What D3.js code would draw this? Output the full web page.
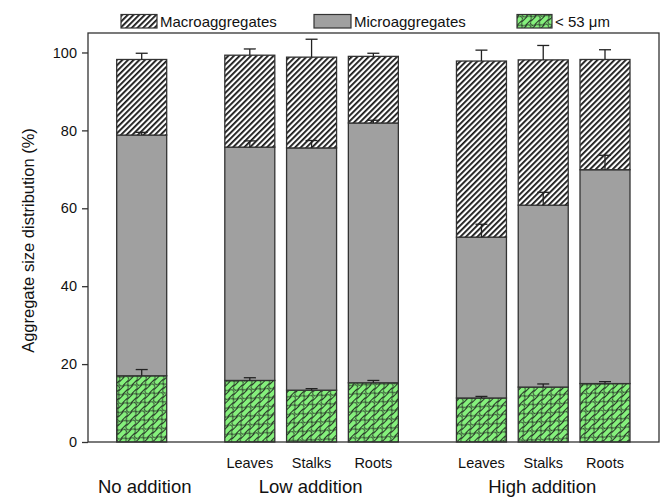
<!DOCTYPE html>
<html><head><meta charset="utf-8">
<script src="https://cdn.jsdelivr.net/npm/d3@7"></script>
<style>body{margin:0;background:#fff}svg{display:block;font-family:"Liberation Sans",Arial,sans-serif}</style>
</head><body><svg id="c" width="662" height="500"></svg>
<script>
const groups = ["No addition", "Low addition", "High addition"];
const treatments = ["", "Leaves", "Stalks", "Roots", "Leaves", "Stalks", "Roots"];
const groupIndex = [0, 1, 1, 1, 2, 2, 2];
const series = ["< 53 μm", "Microaggregates", "Macroaggregates"];
// cumulative tops of each stacked segment
const fineTop  = [17.0, 15.8, 13.3, 15.2, 11.3, 14.1, 15.0];
const microTop = [78.8, 75.7, 75.5, 81.9, 52.6, 60.8, 69.9];
const macroTop = [98.2, 99.3, 98.8, 99.0, 97.8, 98.1, 98.2];
// error bar upper ends
const fineErr  = [18.6, 16.5, 13.7, 15.8, 11.7, 14.9, 15.5];
const microErr = [79.5, 77.3, 77.4, 82.6, 55.9, 64.1, 73.6];
const macroErr = [99.8, 100.9, 103.4, 99.8, 100.6, 101.8, 100.7];
const yTicks = [0, 20, 40, 60, 80, 100];

const svg = d3.select("#c");
const L = 88, R = 659, T = 33, B = 442;
const defs = svg.append("defs");
const hatch = defs.append("pattern").attr("id", "hatch").attr("patternUnits", "userSpaceOnUse")
  .attr("width", 4).attr("height", 4).attr("patternTransform", "rotate(45)");
hatch.append("rect").attr("width", 4).attr("height", 4).attr("fill", "#fff");
hatch.append("line").attr("x1", 0.9).attr("y1", 0).attr("x2", 0.9).attr("y2", 4)
  .attr("stroke", "#151515").attr("stroke-width", 1.8);
const brick = defs.append("pattern").attr("id", "brick").attr("patternUnits", "userSpaceOnUse")
  .attr("width", 13).attr("height", 12).attr("patternTransform", "rotate(-45)");
brick.append("rect").attr("width", 13).attr("height", 12).attr("fill", "#85f07c");
[[0.5, 0.5], [-6, 6.5], [7, 6.5]].forEach(([bx, by]) => {
  brick.append("rect").attr("x", bx).attr("y", by).attr("width", 12).attr("height", 5).attr("rx", 2.5)
    .attr("fill", "#85f07c").attr("stroke", "#2a3a2a").attr("stroke-width", 1);
});

const pos = treatments.map((t, i) => i + 0.75 * groupIndex[i]);
const x = d3.scaleLinear().domain([0, 7.5]).range([141.7, 605]);
const y = d3.scaleLinear().domain([0, 105]).range([B, T]);
const bw = 50;

const segs = [
  {bot: treatments.map(() => 0), top: fineTop, err: fineErr, fill: "url(#brick)"},
  {bot: fineTop, top: microTop, err: microErr, fill: "#a0a0a0"},
  {bot: microTop, top: macroTop, err: macroErr, fill: "url(#hatch)"}
];
const g = svg.append("g");
segs.forEach(s => {
  g.selectAll(null).data(treatments).enter().append("rect")
    .attr("x", (d, i) => x(pos[i]) - bw / 2).attr("width", bw)
    .attr("y", (d, i) => y(s.top[i])).attr("height", (d, i) => y(s.bot[i]) - y(s.top[i]))
    .attr("fill", s.fill).attr("stroke", "#333").attr("stroke-width", 1.3);
});
segs.forEach(s => {
  const e = g.selectAll(null).data(treatments).enter().append("g");
  e.append("line").attr("x1", (d, i) => x(pos[i])).attr("x2", (d, i) => x(pos[i]))
    .attr("y1", (d, i) => y(s.top[i])).attr("y2", (d, i) => y(s.err[i])).attr("stroke", "#222").attr("stroke-width", 1.3);
  e.append("line").attr("x1", (d, i) => x(pos[i]) - 6).attr("x2", (d, i) => x(pos[i]) + 6)
    .attr("y1", (d, i) => y(s.err[i])).attr("y2", (d, i) => y(s.err[i])).attr("stroke", "#222").attr("stroke-width", 1.3);
});

// frame
svg.append("rect").attr("x", L).attr("y", T).attr("width", R - L).attr("height", B - T)
  .attr("fill", "none").attr("stroke", "#333").attr("stroke-width", 1.3);

const ya = svg.append("g").attr("transform", `translate(${L},0)`)
  .call(d3.axisLeft(y).tickValues(yTicks).tickSize(6).tickPadding(5));
ya.select(".domain").remove();
ya.selectAll("line").attr("stroke", "#333").attr("stroke-width", 1.3);
ya.selectAll("text").attr("font-size", 14.5).attr("fill", "#111").attr("font-family", "Liberation Sans, Arial, sans-serif");

svg.append("text").attr("transform", `translate(34,${(T + B) / 2 + 3}) rotate(-90)`)
  .attr("text-anchor", "middle").attr("font-size", 16.5).attr("fill", "#111")
  .text("Aggregate size distribution (%)");

svg.selectAll(null).data(treatments).enter().append("text")
  .attr("x", (d, i) => x(pos[i])).attr("y", 468).attr("text-anchor", "middle")
  .attr("font-size", 14.5).attr("fill", "#111").text(d => d);

const gCenters = groups.map((gname, gi) => d3.mean(pos.filter((p, i) => groupIndex[i] === gi)));
svg.selectAll(null).data(groups).enter().append("text")
  .attr("x", (d, i) => x(gCenters[i]) + (i === 0 ? 3 : -1)).attr("y", 493).attr("text-anchor", "middle")
  .attr("font-size", 18.5).attr("fill", "#111").text(d => d);

// legend
const leg = [
  {name: series[2], fill: "url(#hatch)", x: 121, w: 36},
  {name: series[1], fill: "#a0a0a0", x: 314, w: 37},
  {name: series[0], fill: "url(#brick)", x: 517, w: 35}
];
const lg = svg.selectAll(null).data(leg).enter().append("g");
lg.append("rect").attr("x", d => d.x).attr("y", 14.5).attr("width", d => d.w).attr("height", 13.5)
  .attr("fill", d => d.fill).attr("stroke", "#333").attr("stroke-width", 1.2);
lg.append("text").attr("x", d => d.x + d.w + 3).attr("y", 26.5).attr("font-size", 15).attr("fill", "#111").text(d => d.name);
</script></body></html>
